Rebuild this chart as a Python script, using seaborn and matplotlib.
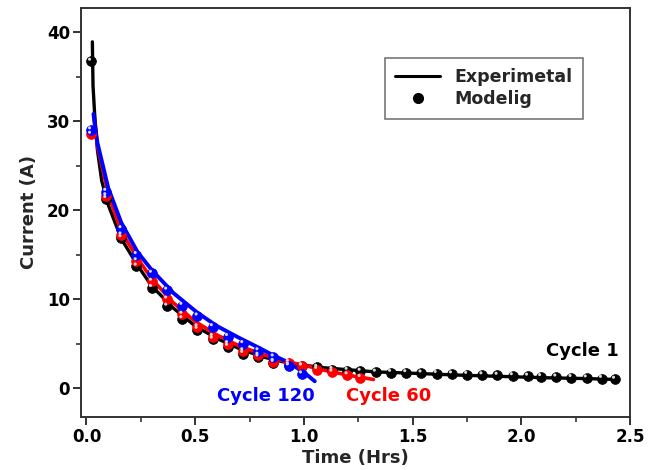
import matplotlib
matplotlib.use("Agg")
import matplotlib.pyplot as plt
import numpy as np
import pandas as pd
import seaborn as sns
from matplotlib.lines import Line2D
from matplotlib.ticker import MultipleLocator

sns.set_style("ticks")
plt.rcParams["font.family"] = ["DejaVu Sans"]
plt.rcParams["font.weight"] = "bold"

# experimental curves (Time in hrs, Current in A)
exp1_t = [0.027, 0.030, 0.037, 0.05, 0.07, 0.10, 0.16, 0.235, 0.30, 0.40, 0.50, 0.60, 0.70, 0.80,
          0.90, 1.00, 1.10, 1.20, 1.33, 1.50, 1.70, 1.90, 2.10, 2.30, 2.44]
exp1_i = [38.9, 34.0, 31.0, 26.8, 23.3, 20.6, 16.8, 13.8, 11.5, 9.0, 7.0, 5.6, 4.5, 3.6,
          3.0, 2.6, 2.3, 2.1, 1.85, 1.7, 1.5, 1.35, 1.2, 1.1, 1.0]
exp60_t = [0.035, 0.05, 0.10, 0.16, 0.235, 0.30, 0.40, 0.50, 0.60, 0.70, 0.80, 0.90, 1.00,
           1.10, 1.20, 1.32]
exp60_i = [30.2, 27.3, 21.8, 17.6, 14.6, 12.3, 9.6, 7.5, 6.0, 4.8, 3.9, 3.1, 2.6,
           2.0, 1.5, 1.0]
exp120_t = [0.032, 0.05, 0.10, 0.16, 0.235, 0.30, 0.40, 0.51, 0.60, 0.70, 0.79, 0.86, 0.93,
            1.00, 1.05]
exp120_i = [30.8, 27.6, 22.5, 18.6, 15.3, 13.3, 10.7, 8.5, 7.0, 5.7, 4.6, 3.7, 2.9,
            1.8, 0.8]

# modelled points
mod_t = [0.02, 0.09, 0.16, 0.23, 0.30, 0.37, 0.44, 0.51, 0.58, 0.65, 0.72, 0.79, 0.86, 0.93,
         0.99, 1.06, 1.13, 1.20, 1.26, 1.33, 1.40, 1.47, 1.54, 1.61, 1.68, 1.75, 1.82, 1.89,
         1.96, 2.03, 2.09, 2.16, 2.23, 2.30, 2.37, 2.43]
mod1_i = [36.7, 21.3, 16.9, 13.7, 11.3, 9.2, 7.8, 6.6, 5.5, 4.7, 3.9, 3.5, 2.9, 2.6,
          2.5, 2.35, 2.1, 2.0, 1.9, 1.8, 1.78, 1.74, 1.7, 1.65, 1.6, 1.55, 1.5, 1.45,
          1.4, 1.35, 1.3, 1.25, 1.2, 1.15, 1.1, 1.0]
mod60_i = [28.5, 21.6, 17.2, 14.3, 12.0, 10.0, 8.3, 6.9, 5.8, 5.0, 4.2, 3.7, 3.0, 2.9,
           2.5, 2.1, 1.8, 1.5, 1.2]
mod120_i = [29.0, 22.1, 17.9, 15.0, 12.9, 11.0, 9.3, 8.1, 6.9, 5.8, 5.0, 4.2, 3.5, 2.5, 1.6]

BLACK, RED, BLUE = "#000000", "#ff0000", "#0000ff"


def balls(ax, t, i, color):
    sns.scatterplot(x=t, y=i, ax=ax, color=color, s=50, edgecolor=color, linewidth=0.5, zorder=4)
    # little highlight for the sphere look
    sns.scatterplot(x=np.array(t) - 0.006, y=np.array(i) + 0.25, ax=ax, color="#d8d8d8",
                    s=5, edgecolor="none", zorder=5)


fig = plt.figure(figsize=(6.59, 4.70), dpi=100)
ax = fig.add_axes([0.123, 0.113, 0.833, 0.870])

sns.lineplot(x=exp1_t, y=exp1_i, ax=ax, color=BLACK, lw=2.4, sort=False, zorder=2)
balls(ax, mod_t, mod1_i, BLACK)
sns.lineplot(x=exp60_t, y=exp60_i, ax=ax, color=RED, lw=2.6, sort=False, zorder=3)
balls(ax, mod_t[:len(mod60_i)], mod60_i, RED)
sns.lineplot(x=exp120_t, y=exp120_i, ax=ax, color=BLUE, lw=2.8, sort=False, zorder=3)
balls(ax, mod_t[:len(mod120_i)], mod120_i, BLUE)

ax.set_xlim(-0.025, 2.5)
ax.set_ylim(-3.2, 42.7)
ax.xaxis.set_major_locator(MultipleLocator(0.5))
ax.xaxis.set_minor_locator(MultipleLocator(0.25))
ax.yaxis.set_major_locator(MultipleLocator(10))
ax.yaxis.set_minor_locator(MultipleLocator(5))
ax.tick_params(which="major", direction="out", length=6, width=1.3, labelsize=12,
               colors="#222222", pad=2)
ax.tick_params(which="minor", direction="out", length=3.5, width=1.1, colors="#222222")
ax.tick_params(top=False, right=False, which="both")
for lab in ax.get_xticklabels() + ax.get_yticklabels():
    lab.set_fontweight("bold")
    lab.set_color("black")
for sp in ax.spines.values():
    sp.set_visible(True)
    sp.set_linewidth(1.4)
    sp.set_color("#333333")

ax.set_xlabel("Time (Hrs)", fontsize=13, fontweight="bold", labelpad=2)
ax.set_ylabel("Current (A)", fontsize=13, fontweight="bold", labelpad=6)

ax.text(2.28, 4.2, "Cycle 1", color=BLACK, fontsize=13, fontweight="bold", ha="center", va="center")
ax.text(0.826, -0.9, "Cycle 120", color=BLUE, fontsize=13, fontweight="bold", ha="center", va="center")
ax.text(1.39, -0.9, "Cycle 60", color=RED, fontsize=13, fontweight="bold", ha="center", va="center")

handles = [Line2D([], [], color=BLACK, lw=2.2),
           Line2D([], [], color=BLACK, marker="o", ls="none", markersize=7)]
leg = ax.legend(handles, ["Experimetal", "Modelig"], loc="upper right",
                bbox_to_anchor=(0.93, 0.90), frameon=True, fancybox=False,
                prop={"weight": "bold", "size": 12.5}, handlelength=2.6,
                borderpad=0.6, labelspacing=0.25)
leg.get_frame().set_edgecolor("#555555")
leg.get_frame().set_linewidth(1.2)

fig.savefig("out.png", dpi=100)
